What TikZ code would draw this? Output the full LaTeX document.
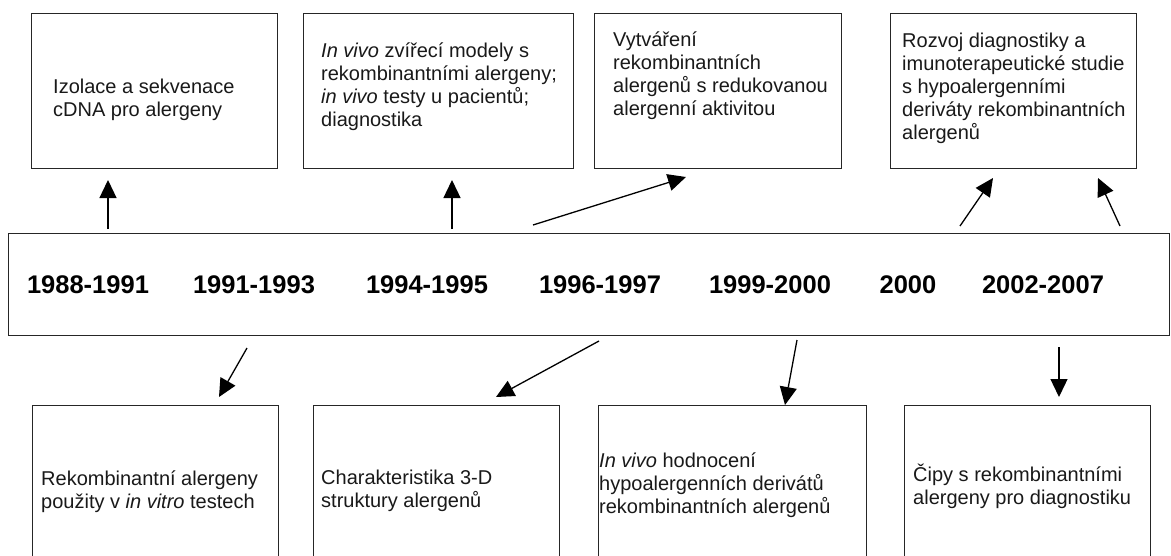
\documentclass[tikz,border=0pt]{standalone}
\usepackage{fontspec}
\setmainfont{Liberation Sans}
\usetikzlibrary{arrows.meta}
\begin{document}
\begin{tikzpicture}[x=1pt,y=-1pt,
  box/.style={draw=black!85, line width=1.3pt, inner sep=0pt, anchor=north west},
  txt/.style={anchor=base west, align=left, inner sep=0pt, font=\fontsize{20}{23}\selectfont, text=black!90},
  yr/.style={anchor=base, inner sep=0pt, font=\fontsize{25.5}{28}\selectfont\bfseries},
  arr/.style={line width=1.3pt, -{Triangle[length=18pt,width=17pt]}}]
\useasboundingbox[fill=white] (0,0) rectangle (1171,555);

% top boxes
\node[box, minimum width=246pt, minimum height=155pt] (b1) at (31,13) {};
\node[box, minimum width=270pt, minimum height=155pt] (b2) at (303,13) {};
\node[box, minimum width=247pt, minimum height=155pt] (b3) at (594,13) {};
\node[box, minimum width=246pt, minimum height=155pt] (b4) at (890,13) {};
% timeline
\node[box, minimum width=1161pt, minimum height=102pt] (tl) at (8,233) {};
% bottom boxes
\node[box, minimum width=246pt, minimum height=170pt] (b5) at (32,405) {};
\node[box, minimum width=246pt, minimum height=170pt] (b6) at (313,405) {};
\node[box, minimum width=268pt, minimum height=170pt] (b7) at (598,405) {};
\node[box, minimum width=246pt, minimum height=170pt] (b8) at (904,405) {};

% texts (anchored at the baseline of their last line)
\node[txt] (t1) at (53,116) {Izolace a sekvenace\\cDNA pro alergeny};
\node[txt] (t2) at (321,126) {\textit{In vivo} zvířecí modely s\\rekombinantními alergeny;\\\textit{in vivo} testy u pacientů;\\diagnostika};
\node[txt] (t3) at (613,115) {Vytváření\\rekombinantních\\alergenů s redukovanou\\alergenní aktivitou};
\node[txt] (t4) at (902,139.5) {Rozvoj diagnostiky a\\imunoterapeutické studie\\s hypoalergenními\\deriváty rekombinantních\\alergenů};
\node[txt] (t5) at (41,508) {Rekombinantní alergeny\\použity v \textit{in vitro} testech};
\node[txt] (t6) at (321,507) {Charakteristika 3-D\\struktury alergenů};
\node[txt] (t7) at (599,513.5) {\textit{In vivo} hodnocení\\hypoalergenních derivátů\\rekombinantních alergenů};
\node[txt] (t8) at (913,504) {Čipy s rekombinantními\\alergeny pro diagnostiku};

% years
\node[yr] (y1) at (88,293) {1988-1991};
\node[yr] (y2) at (254,293) {1991-1993};
\node[yr] (y3) at (427,293) {1994-1995};
\node[yr] (y4) at (600,293) {1996-1997};
\node[yr] (y5) at (770,293) {1999-2000};
\node[yr] (y6) at (908,293) {2000};
\node[yr] (y7) at (1043,293) {2002-2007};

% arrow end points
\coordinate (a1s) at (108,229);  \coordinate (a1e) at (108,180);
\coordinate (a2s) at (452,229);  \coordinate (a2e) at (452,180);
\coordinate (a3s) at (533,225);  \coordinate (a3e) at (686,177);
\coordinate (a4s) at (960,226);  \coordinate (a4e) at (993,178);
\coordinate (a5s) at (1120,226); \coordinate (a5e) at (1098,178);
\coordinate (a6s) at (247,348);  \coordinate (a6e) at (219,397);
\coordinate (a7s) at (599,341);  \coordinate (a7e) at (496,397);
\coordinate (a8s) at (797,340);  \coordinate (a8e) at (785,405);
\coordinate (a9s) at (1059,347); \coordinate (a9e) at (1059,397);

\draw[arr] (a1s) -- (a1e);
\draw[arr] (a2s) -- (a2e);
\draw[arr] (a3s) -- (a3e);
\draw[arr] (a4s) -- (a4e);
\draw[arr] (a5s) -- (a5e);
\draw[arr] (a6s) -- (a6e);
\draw[arr] (a7s) -- (a7e);
\draw[arr] (a8s) -- (a8e);
\draw[arr] (a9s) -- (a9e);
\end{tikzpicture}
\end{document}
